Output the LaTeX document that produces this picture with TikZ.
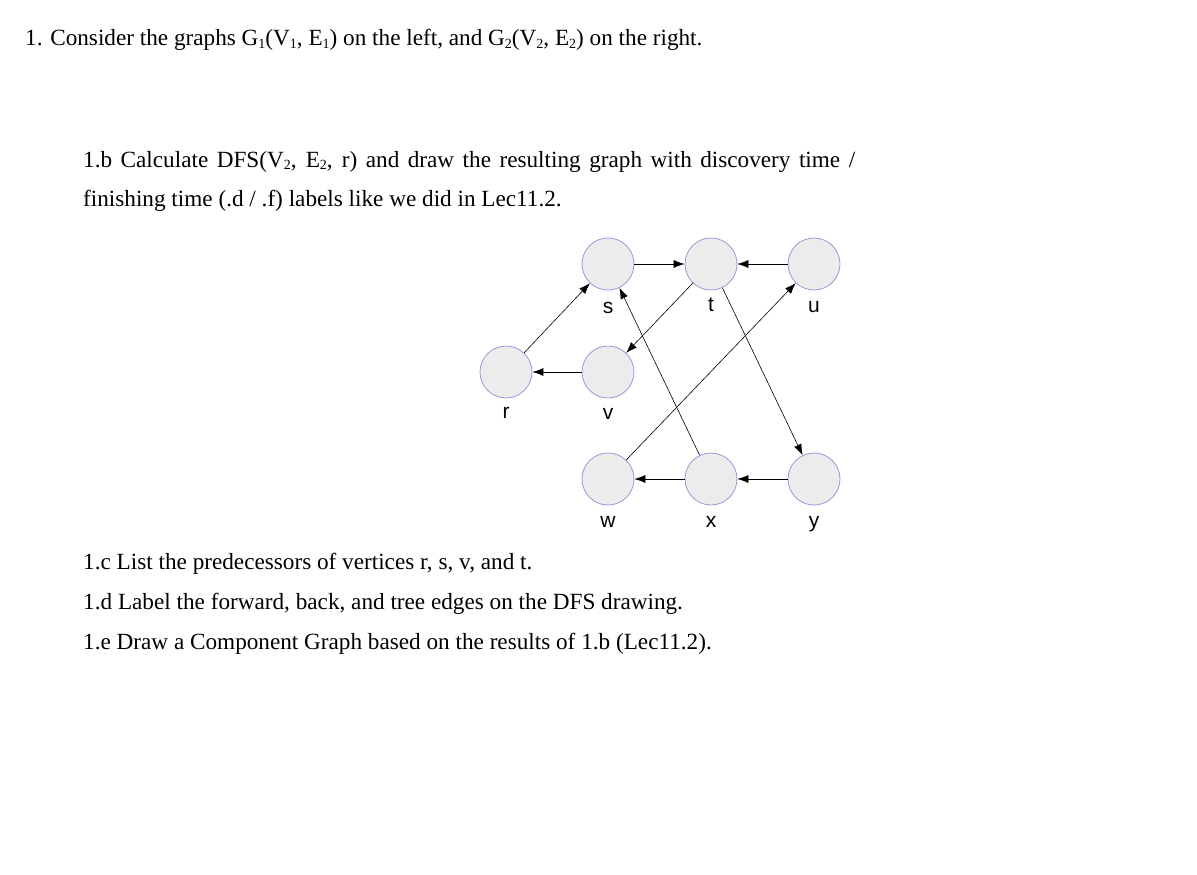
\documentclass[tikz,border=0pt]{standalone}
\usepackage{fontspec}
\setmainfont{Liberation Serif}
\newfontfamily\lsans{Liberation Sans}
\usetikzlibrary{arrows.meta}
\newcommand{\mysb}[1]{\raisebox{-0.25ex}{\fontsize{14}{14}\selectfont #1}}
\begin{document}
\begin{tikzpicture}[x=1pt,y=-1pt,
  vtx/.style={circle,draw=black!40!blue!40,fill=gray!15,line width=0.8pt,minimum size=52pt,inner sep=0},
  lab/.style={font=\lsans\fontsize{21}{21}\selectfont,anchor=base},
  txt/.style={font=\fontsize{23.2}{26}\selectfont,anchor=base west,inner sep=0},
  arr/.style={-{Latex[length=11pt,width=8pt]},line width=0.6pt}]
\useasboundingbox (0,0) rectangle (1197,875);
\node[txt] at (25,46) {1. Consider the graphs G\mysb{1}(V\mysb{1}, E\mysb{1}) on the left, and G\mysb{2}(V\mysb{2}, E\mysb{2}) on the right.};
\node[txt] at (83,167) {\makebox[772pt][s]{1.b Calculate DFS(V\mysb{2}, E\mysb{2}, r) and draw the resulting graph with discovery time /}};
\node[txt] at (83,206) {finishing time (.d / .f) labels like we did in Lec11.2.};
\node[txt] at (83,569) {1.c List the predecessors of vertices r, s, v, and t.};
\node[txt] at (83,609) {1.d Label the forward, back, and tree edges on the DFS drawing.};
\node[txt] at (83,649) {1.e Draw a Component Graph based on the results of 1.b (Lec11.2).};
\node[vtx] (s) at (608,264) {};
\node[vtx] (t) at (711,264) {};
\node[vtx] (u) at (814,264) {};
\node[vtx] (r) at (506,372) {};
\node[vtx] (v) at (608,372) {};
\node[vtx] (w) at (608,479) {};
\node[vtx] (x) at (711,479) {};
\node[vtx] (y) at (814,479) {};
\node[lab] (ls) at (608,313) {s};
\node[lab] (lt) at (711,311) {t};
\node[lab] (lu) at (814,312) {u};
\node[lab] (lr) at (506,418) {r};
\node[lab] (lv) at (608,419) {v};
\node[lab] (lw) at (608,527) {w};
\node[lab] (lx) at (711,527) {x};
\node[lab] (ly) at (814,527) {y};
\draw[arr] (r) -- (s);
\draw[arr] (s) -- (t);
\draw[arr] (u) -- (t);
\draw[arr] (t) -- (v);
\draw[arr] (v) -- (r);
\draw[arr] (x) -- (s);
\draw[arr] (t) -- (y);
\draw[arr] (w) -- (u);
\draw[arr] (x) -- (w);
\draw[arr] (y) -- (x);
\end{tikzpicture}
\end{document}
